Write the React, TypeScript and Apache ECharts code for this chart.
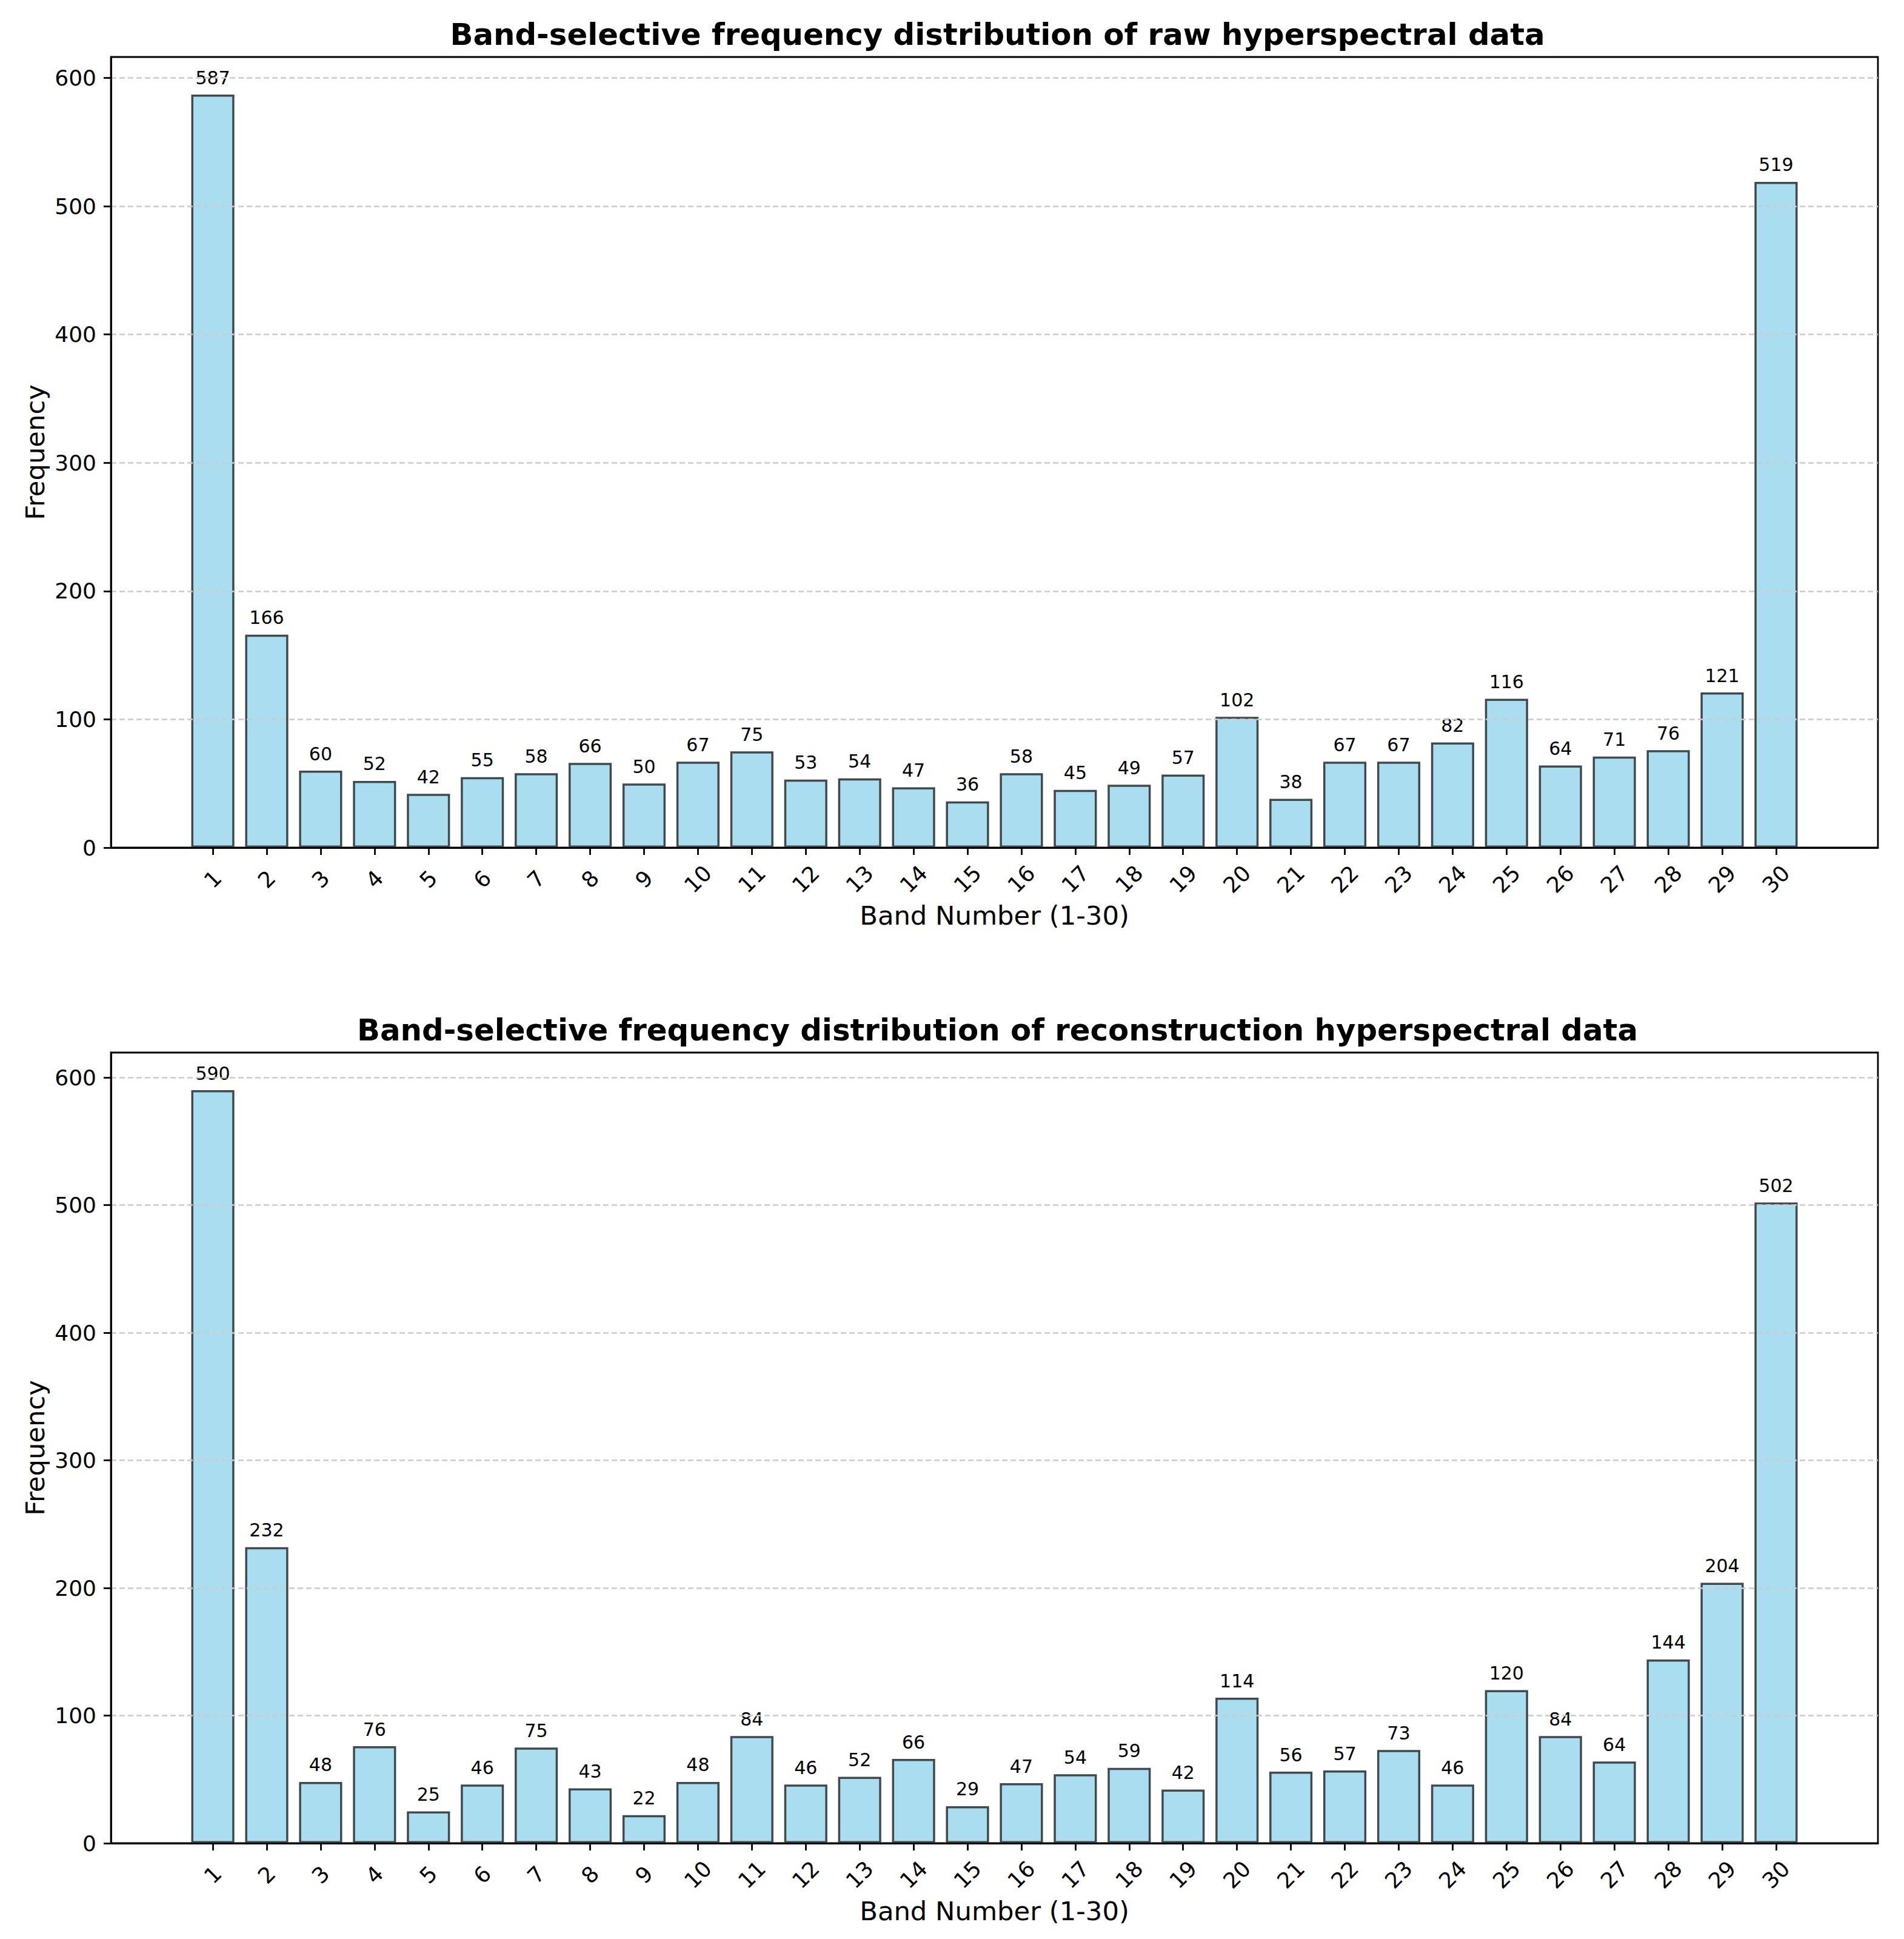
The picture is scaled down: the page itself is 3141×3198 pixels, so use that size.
import React, { useEffect, useRef } from "react";
import * as echarts from "echarts";

const bands = [1, 2, 3, 4, 5, 6, 7, 8, 9, 10, 11, 12, 13, 14, 15, 16, 17, 18, 19, 20, 21, 22, 23, 24, 25, 26, 27, 28, 29, 30];
const rawFreq = [587, 166, 60, 52, 42, 55, 58, 66, 50, 67, 75, 53, 54, 47, 36, 58, 45, 49, 57, 102, 38, 67, 67, 82, 116, 64, 71, 76, 121, 519];
const reconFreq = [590, 232, 48, 76, 25, 46, 75, 43, 22, 48, 84, 46, 52, 66, 29, 47, 54, 59, 42, 114, 56, 57, 73, 46, 120, 84, 64, 144, 204, 502];
const yTicks = [0, 100, 200, 300, 400, 500, 600];
const titles = [
  "Band-selective frequency distribution of raw hyperspectral data",
  "Band-selective frequency distribution of reconstruction hyperspectral data",
];
const xName = "Band Number (1-30)";
const yName = "Frequency";

const FONT = "DejaVu Sans";

export default function App() {
  const ref = useRef<HTMLDivElement>(null);
  useEffect(() => {
    document.body.style.margin = "0";
    const chart = echarts.init(ref.current!, null, { renderer: "svg" });
    const gridLeft = 183;
    const gridWidth = 2915;
    const gridH = 1304;
    const tops = [94, 1736];
    const datasets = [rawFreq, reconFreq];
    const xMin = 0.6 - 0.05 * 29.8;
    const xMax = 30.4 + 0.05 * 29.8;
    const unit = gridWidth / (xMax - xMin);

    const grids = tops.map((t) => ({
      left: gridLeft,
      top: t,
      width: gridWidth,
      height: gridH,
      show: true,
      borderColor: "#000",
      borderWidth: 2.8,
      backgroundColor: "transparent",
    }));

    const xAxes = tops.map((_, i) => ({
      type: "value",
      gridIndex: i,
      min: xMin,
      max: xMax,
      name: xName,
      nameLocation: "middle",
      nameGap: 90,
      nameTextStyle: { fontFamily: FONT, fontSize: 43.3, color: "#000" },
      axisLine: { show: true, onZero: false, lineStyle: { color: "#000", width: 2.8 } },
      axisTick: { show: true, length: 12, lineStyle: { color: "#000", width: 2.8 }, customValues: bands },
      axisLabel: {
        customValues: bands,
        rotate: 45,
        align: "center",
        verticalAlign: "middle",
        margin: 52,
        fontFamily: FONT,
        fontSize: 36,
        color: "#000",
        formatter: (v: number) => String(v),
      },
      splitLine: { show: false },
      z: 4,
    }));

    const yAxes = tops.map((_, i) => ({
      type: "value",
      gridIndex: i,
      min: 0,
      max: Math.max(...datasets[i]) * 1.05,
      interval: 100,
      name: yName,
      nameLocation: "middle",
      nameGap: 101,
      nameTextStyle: { fontFamily: FONT, fontSize: 43.3, color: "#000" },
      axisLine: { show: true, onZero: false, lineStyle: { color: "#000", width: 2.8 } },
      axisTick: { show: true, length: 12, lineStyle: { color: "#000", width: 2.8 }, customValues: yTicks },
      axisLabel: {
        customValues: yTicks,
        margin: 24,
        fontFamily: FONT,
        fontSize: 36,
        color: "#000",
      },
      splitLine: {
        show: true,
        lineStyle: { color: "#cccccc", width: 2.5, type: [9, 5] },
      },
      z: 4,
    }));

    const series = datasets.map((d, i) => ({
      type: "bar",
      xAxisIndex: i,
      yAxisIndex: i,
      data: d.map((v, j) => [bands[j], v]),
      barWidth: 0.8 * unit,
      itemStyle: {
        color: "#abddf0",
        borderColor: "#404a4e",
        borderWidth: 3.5,
      },
      label: {
        show: true,
        position: "top",
        distance: 13,
        fontFamily: FONT,
        fontSize: 30,
        color: "#000",
      },
      z: 2,
    }));

    chart.setOption({
      animation: false,
      backgroundColor: "#fff",
      title: titles.map((t, i) => ({
        text: t,
        left: gridLeft + gridWidth / 2,
        textAlign: "center",
        top: tops[i] - 67,
        textStyle: { fontFamily: FONT, fontSize: 49.8, fontWeight: "bold", color: "#000" },
      })),
      grid: grids,
      xAxis: xAxes,
      yAxis: yAxes,
      series,
    });
    return () => chart.dispose();
  }, []);
  return <div ref={ref} style={{ width: 3141, height: 3198 }} />;
}
